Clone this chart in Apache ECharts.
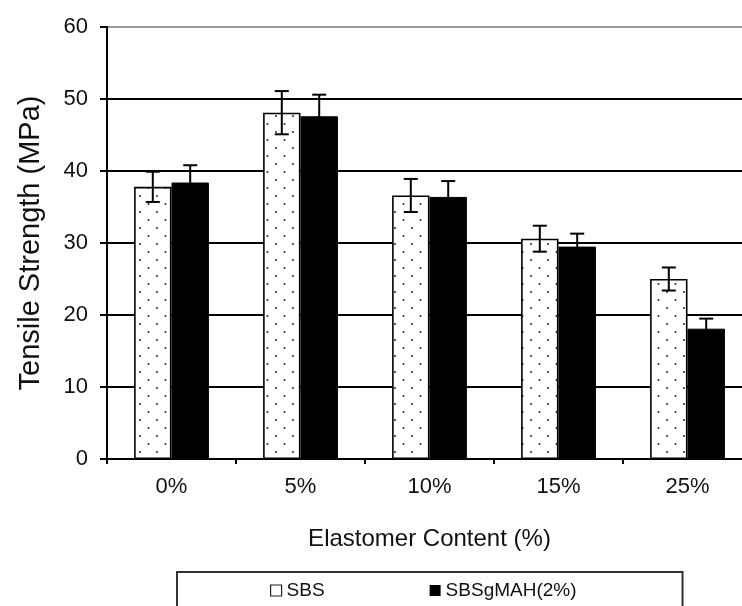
<!DOCTYPE html>
<html>
<head>
<meta charset="utf-8">
<script src="https://cdn.jsdelivr.net/npm/echarts@6/dist/echarts.min.js"></script>
<style>
  html, body { margin: 0; padding: 0; background: #fff; }
  #chart { width: 742px; height: 606px; }
</style>
</head>
<body>
<div id="chart"></div>
<script>
// Elastomer content levels on the category axis
const categories = ['0%', '5%', '10%', '15%', '25%'];
// Y-axis tick values
const yTicks = [0, 10, 20, 30, 40, 50, 60];
// Tensile strength (MPa) and standard deviation per blend
const sbsValues = [37.8, 48.1, 36.6, 30.6, 25.0];
const sbsErrors = [2.1, 3.0, 2.3, 1.8, 1.6];
const gmahValues = [38.4, 47.6, 36.4, 29.5, 18.1];
const gmahErrors = [2.4, 3.0, 2.2, 1.8, 1.4];

const FONT = '"Liberation Sans", Arial, sans-serif';
const CAT_GAP = 0.42;

// Dotted fill for the SBS bars
function dotPattern() {
  const c = document.createElement('canvas');
  c.width = 17; c.height = 16;
  const g = c.getContext('2d');
  g.fillStyle = '#fff';
  g.fillRect(0, 0, 17, 16);
  g.fillStyle = '#333';
  [[4, 4], [12.5, 12]].forEach(([x, y]) => {
    g.beginPath();
    g.arc(x, y, 1.05, 0, Math.PI * 2);
    g.fill();
  });
  return c;
}

function errorSeries(values, errors, sign) {
  return {
    type: 'custom',
    z: 5,
    silent: true,
    data: values.map((v, i) => [i, v - errors[i], v + errors[i]]),
    encode: { x: 0, y: [1, 2] },
    renderItem: function (params, api) {
      const i = api.value(0);
      const lo = api.coord([i, api.value(1)]);
      const hi = api.coord([i, api.value(2)]);
      const catW = api.size([1, 0])[0];
      const barW = catW * (1 - CAT_GAP) / 2;
      const x = lo[0] + sign * barW / 2;
      const cap = 7;
      const style = { stroke: '#000', lineWidth: 2 };
      return {
        type: 'group',
        children: [
          { type: 'line', shape: { x1: x, y1: lo[1], x2: x, y2: hi[1] }, style: style },
          { type: 'line', shape: { x1: x - cap, y1: hi[1], x2: x + cap, y2: hi[1] }, style: style },
          { type: 'line', shape: { x1: x - cap, y1: lo[1], x2: x + cap, y2: lo[1] }, style: style }
        ]
      };
    }
  };
}

const chart = echarts.init(document.getElementById('chart'), null, { renderer: 'canvas' });

chart.setOption({
  animation: false,
  backgroundColor: '#fff',
  textStyle: { fontFamily: FONT },
  // plot area runs past the right edge of the canvas
  grid: {
    left: 107, width: 645, top: 27, bottom: 147,
    containLabel: false,
    outerBoundsMode: 'none'
  },
  legend: {
    left: 177,
    top: 572,
    orient: 'horizontal',
    padding: [9, 106, 20, 93],
    itemGap: 105,
    itemWidth: 11,
    itemHeight: 11,
    backgroundColor: '#fff',
    borderColor: '#333',
    borderWidth: 2,
    borderRadius: 0,
    textStyle: { fontFamily: FONT, fontSize: 19, color: '#111' },
    data: [
      { name: 'SBS', icon: 'rect', itemStyle: { color: '#fff', borderColor: '#222', borderWidth: 1.2 } },
      { name: 'SBSgMAH(2%)', icon: 'rect', itemStyle: { color: '#000', borderWidth: 0 } }
    ]
  },
  xAxis: {
    type: 'category',
    data: categories,
    boundaryGap: true,
    name: 'Elastomer Content (%)',
    nameLocation: 'middle',
    nameGap: 68,
    nameTextStyle: { fontFamily: FONT, fontSize: 24, color: '#111' },
    axisLine: { lineStyle: { color: '#000', width: 2 } },
    axisTick: { show: true, length: 5, lineStyle: { color: '#000', width: 2 } },
    axisLabel: { fontFamily: FONT, fontSize: 22, color: '#111', margin: 17 },
    splitLine: { show: false }
  },
  yAxis: {
    type: 'value',
    min: yTicks[0],
    max: yTicks[yTicks.length - 1],
    interval: yTicks[1] - yTicks[0],
    name: 'Tensile Strength (MPa)',
    nameLocation: 'middle',
    nameGap: 62,
    nameTextStyle: { fontFamily: FONT, fontSize: 29, color: '#111' },
    axisLine: { show: true, lineStyle: { color: '#000', width: 2 } },
    axisTick: { show: true, length: 7, lineStyle: { color: '#000', width: 2 } },
    axisLabel: { fontFamily: FONT, fontSize: 22, color: '#111', margin: 19 },
    splitLine: {
      show: true,
      lineStyle: { color: ['#000', '#000', '#000', '#000', '#000', '#000', '#999'], width: 2 }
    }
  },
  series: [
    {
      name: 'SBS',
      type: 'bar',
      data: sbsValues,
      barGap: '0%',
      barCategoryGap: (CAT_GAP * 100) + '%',
      z: 2,
      itemStyle: {
        color: { image: dotPattern(), repeat: 'repeat' },
        borderColor: '#000',
        borderWidth: 1.6
      }
    },
    {
      name: 'SBSgMAH(2%)',
      type: 'bar',
      data: gmahValues,
      barGap: '0%',
      barCategoryGap: (CAT_GAP * 100) + '%',
      z: 2,
      itemStyle: { color: '#000', borderColor: '#000', borderWidth: 1 }
    },
    errorSeries(sbsValues, sbsErrors, -1),
    errorSeries(gmahValues, gmahErrors, 1)
  ]
});
</script>
</body>
</html>
